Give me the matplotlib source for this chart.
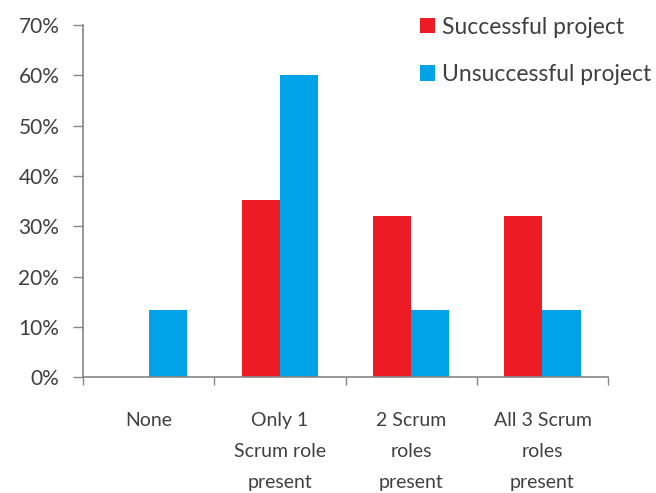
import matplotlib.pyplot as plt
import numpy as np
from matplotlib.ticker import FixedLocator, PercentFormatter

categories = ['None', 'Only 1\nScrum role\npresent', '2 Scrum\nroles\npresent', 'All 3 Scrum\nroles\npresent']
successful = [0.0, 35.3, 32.1, 32.1]
unsuccessful = [13.3, 60.0, 13.3, 13.3]

red = '#ed1c24'
blue = '#00a2e8'
grey = '#868686'
text_col = '#404040'

plt.rcParams['font.family'] = ['Lato', 'DejaVu Sans']

fig = plt.figure(figsize=(6.56, 4.93), dpi=100)
ax = fig.add_axes([0.1265, 0.235, 0.8005, 0.714])

x = np.arange(len(categories))
w = 0.29
ax.bar(x - w / 2, successful, w, color=red, label='Successful project')
ax.bar(x + w / 2, unsuccessful, w, color=blue, label='Unsuccessful project')

ax.set_xlim(-0.5, len(categories) - 0.5)
ax.set_ylim(0, 70)
ax.set_yticks(np.arange(0, 71, 10))
ax.yaxis.set_major_formatter(PercentFormatter(decimals=0))

# category labels centred, boundary ticks drawn as minor ticks
ax.set_xticks(x)
ax.set_xticklabels(categories, linespacing=2.0)
ax.xaxis.set_minor_locator(FixedLocator(np.arange(-0.5, len(categories), 1.0)))
ax.tick_params(axis='x', which='major', length=0, pad=25, labelsize=14, colors=text_col)
ax.tick_params(axis='x', which='minor', length=6, color=grey, width=1)
ax.tick_params(axis='y', length=7, color=grey, width=1, labelsize=15, labelcolor=text_col, pad=10)

for side in ['top', 'right']:
    ax.spines[side].set_visible(False)
for side in ['left', 'bottom']:
    ax.spines[side].set_color(grey)
    ax.spines[side].set_linewidth(1.2)

ax.legend(loc='upper left', bbox_to_anchor=(0.627, 0.985), bbox_transform=fig.transFigure,
          frameon=False, fontsize=16.5, labelcolor=text_col, handlelength=0.65, handleheight=0.65,
          handletextpad=0.3, labelspacing=1.15, borderaxespad=0)

fig.savefig('out.png', dpi=100)
